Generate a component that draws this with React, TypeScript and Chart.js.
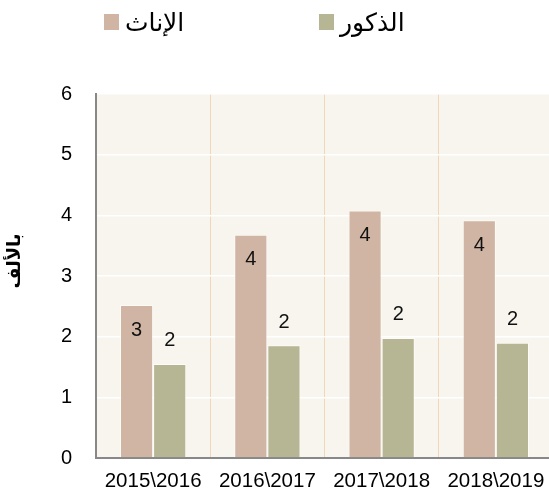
import { useEffect, useRef } from "react";
import { Chart, registerables } from "chart.js";

Chart.register(...registerables);

const categories = ["2015\\2016", "2016\\2017", "2017\\2018", "2018\\2019"];
const femaleValues = [2.52, 3.68, 4.08, 3.92];
const maleValues = [1.55, 1.86, 1.98, 1.9];
const seriesNames = ["الإناث", "الذكور"];
const yTickMin = 0;
const yTickMax = 6;
const yTickStep = 1;
const yTitle = "بالألف";

const FEMALE_COLOR = "#d1b5a4";
const MALE_COLOR = "#b6b695";
const FONT = "'Liberation Sans', Arial, 'DejaVu Sans', sans-serif";

const plotBackground = {
  id: "plotBackground",
  beforeDraw(chart: any) {
    const { ctx, chartArea } = chart;
    ctx.save();
    ctx.fillStyle = "#f8f5ee";
    ctx.fillRect(chartArea.left, chartArea.top, chartArea.right - chartArea.left, chartArea.bottom - chartArea.top);
    ctx.restore();
  },
};

const customLegend = {
  id: "customLegend",
  afterDraw(chart: any) {
    const { ctx } = chart;
    const items = [
      { x: 104, color: FEMALE_COLOR, text: seriesNames[0] },
      { x: 319, color: MALE_COLOR, text: seriesNames[1] },
    ];
    ctx.save();
    ctx.font = `25px ${FONT}`;
    ctx.textBaseline = "middle";
    ctx.textAlign = "left";
    items.forEach((it) => {
      ctx.fillStyle = it.color;
      ctx.fillRect(it.x, 14, 15, 16);
      ctx.fillStyle = "#000";
      ctx.fillText(it.text, it.x + 21, 24);
    });
    ctx.restore();
  },
};

const yTitlePlugin = {
  id: "yTitlePlugin",
  afterDraw(chart: any) {
    const { ctx } = chart;
    ctx.save();
    ctx.translate(15, 261);
    ctx.rotate(-Math.PI / 2);
    ctx.font = `bold 18px ${FONT}`;
    ctx.textAlign = "center";
    ctx.textBaseline = "middle";
    ctx.fillStyle = "#000";
    ctx.fillText(yTitle, 0, 0);
    ctx.restore();
  },
};

const barLabels = {
  id: "barLabels",
  afterDatasetsDraw(chart: any) {
    const { ctx } = chart;
    ctx.save();
    ctx.font = `20px ${FONT}`;
    ctx.textAlign = "center";
    ctx.textBaseline = "middle";
    ctx.fillStyle = "#111";
    chart.data.datasets.forEach((ds: any, i: number) => {
      const meta = chart.getDatasetMeta(i);
      meta.data.forEach((bar: any, j: number) => {
        const v = ds.data[j];
        const y = i === 0 ? bar.y + 25 : bar.y - 23;
        ctx.fillText(String(Math.round(v)), bar.x, y);
      });
    });
    ctx.restore();
  },
};

export default function App() {
  const ref = useRef<HTMLCanvasElement | null>(null);
  useEffect(() => {
    if (!ref.current) return;
    const chart = new Chart(ref.current, {
      type: "bar",
      data: {
        labels: categories,
        datasets: [
          {
            label: seriesNames[0],
            data: femaleValues,
            backgroundColor: FEMALE_COLOR,
            borderColor: "rgba(255,255,255,0.6)",
            borderWidth: 1,
            categoryPercentage: 0.58,
            barPercentage: 1,
          },
          {
            label: seriesNames[1],
            data: maleValues,
            backgroundColor: MALE_COLOR,
            borderColor: "rgba(255,255,255,0.6)",
            borderWidth: 1,
            categoryPercentage: 0.58,
            barPercentage: 1,
          },
        ],
      },
      options: {
        responsive: false,
        animation: false,
        devicePixelRatio: 1,
        layout: { padding: { top: 94, right: 7, left: 0, bottom: 0 } },
        plugins: {
          legend: { display: false },
          tooltip: { enabled: false },
        },
        scales: {
          x: {
            afterFit: (s: any) => {
              s.height = 39;
            },
            grid: { color: "#f0d6bb", lineWidth: 1, drawTicks: false, offset: true },
            border: { display: true, color: "#888", width: 2 },
            ticks: { color: "#000", padding: 11, font: { size: 20.5, family: FONT } },
          },
          y: {
            min: yTickMin,
            max: yTickMax,
            afterFit: (s: any) => {
              s.width = 96;
            },
            ticks: { stepSize: yTickStep, color: "#000", padding: 24, font: { size: 20, family: FONT } },
            grid: { color: "#ffffff", lineWidth: 1.5, drawTicks: false },
            border: { display: true, color: "#888", width: 2 },
          },
        },
      },
      plugins: [plotBackground, customLegend, yTitlePlugin, barLabels],
    });
    return () => chart.destroy();
  }, []);
  return (
    <div style={{ position: "fixed", left: 0, top: 0, width: 549, height: 497, overflow: "hidden", background: "#fff" }}>
      <canvas ref={ref} width={560} height={497} style={{ display: "block" }} />
    </div>
  );
}
